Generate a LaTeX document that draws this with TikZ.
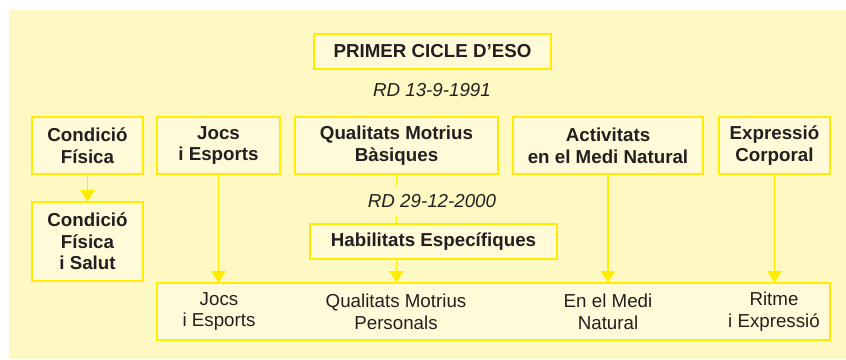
\documentclass[tikz,border=0pt]{standalone}
\usepackage{fontspec}
\setmainfont{Liberation Sans}
\usetikzlibrary{arrows.meta}
\definecolor{fonsgroc}{HTML}{FEF8C3}
\definecolor{caixagroc}{HTML}{FFFBD9}
\definecolor{liniagroc}{HTML}{FFEC00}
\definecolor{textfosc}{HTML}{231F20}
\begin{document}
\begin{tikzpicture}[x=0.03cm,y=-0.03cm,
  caixa/.style={draw=liniagroc,fill=caixagroc,line width=1pt,align=center,
    text=textfosc,inner sep=0pt,font=\fontsize{16}{18.5}\selectfont\bfseries},
  normal/.style={align=center,text=textfosc,font=\fontsize{16}{18.5}\selectfont},
  decret/.style={text=textfosc,inner sep=0pt,minimum height=0.9cm,
    font=\fontsize{16}{18.5}\selectfont\itshape},
  fletxa/.style={draw=liniagroc,line width=1pt,-{Triangle[length=0.34cm,width=0.44cm]}},
  linia/.style={draw=liniagroc,line width=1pt}]
\useasboundingbox (0,0) rectangle (846,359);
\fill[fonsgroc] (9,10) rectangle (846,359); % fons
% capcalera
\node[caixa,minimum width=7.11cm,minimum height=1.05cm] (cicle) at (432.5,51.5) {PRIMER CICLE D’ESO};
\node[decret] (rd1) at (432,90) {RD 13-9-1991};
% blocs de 1991
\node[caixa,minimum width=3.33cm,minimum height=1.71cm] (condicio) at (87.5,145.5) {Condició\\Física};
\node[caixa,minimum width=3.69cm,minimum height=1.71cm] (jocs) at (218.5,145.5) {Jocs\\i Esports};
\node[caixa,minimum width=6.09cm,minimum height=1.71cm] (qualitats) at (396.5,145.5) {Qualitats Motrius\\Bàsiques};
\node[caixa,minimum width=5.7cm,minimum height=1.71cm] (activitats) at (608,145.5) {Activitats\\en el Medi Natural};
\node[caixa,minimum width=3.33cm,minimum height=1.71cm] (expressio) at (774.5,145.5) {Expressió\\Corporal};
\node[caixa,minimum width=3.33cm,minimum height=2.37cm] (salut) at (87.5,241.5) {Condició\\Física\\i Salut};
% blocs de 2000
\node[decret] (rd2) at (432,201) {RD 29-12-2000};
\node[caixa,minimum width=7.41cm,minimum height=1.05cm] (habilitats) at (433.5,241.5) {Habilitats Específiques};
\node[caixa,minimum width=20.19cm,minimum height=1.71cm] (nous) at (493.5,311.5) {};
\node[normal] (nJocs) at (219,311.5) {Jocs\\i Esports};
\node[normal] (nQualitats) at (396,311.5) {Qualitats Motrius\\Personals};
\node[normal] (nMedi) at (608,311.5) {En el Medi\\Natural};
\node[normal] (nRitme) at (774,311.5) {Ritme\\i Expressió};
% connexions
\draw[fletxa] (condicio.south) -- (salut.north);
\draw[fletxa] (jocs.south) -- (jocs.south |- nous.north);
\draw[linia] (qualitats.south) -- (qualitats.south |- rd2.north);
\draw[linia] (qualitats.south |- rd2.south) -- (qualitats.south |- habilitats.north);
\draw[fletxa] (qualitats.south |- habilitats.south) -- (qualitats.south |- nous.north);
\draw[fletxa] (activitats.south) -- (activitats.south |- nous.north);
\draw[fletxa] (expressio.south) -- (expressio.south |- nous.north);
\end{tikzpicture}
\end{document}
